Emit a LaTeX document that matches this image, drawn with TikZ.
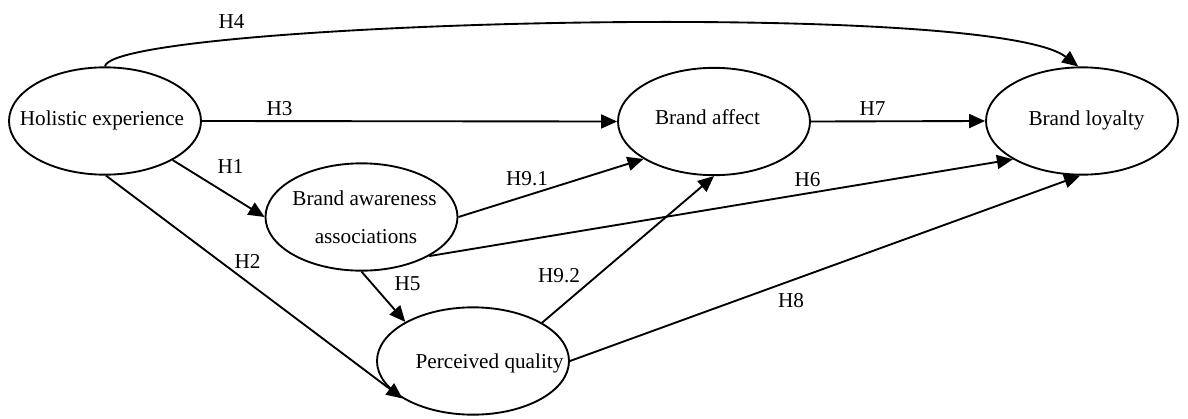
\documentclass[tikz,border=0pt]{standalone}
\usepackage{fontspec}
\setmainfont{Liberation Serif}
\usetikzlibrary{shapes.geometric,arrows.meta}
\begin{document}
\begin{tikzpicture}[x=0.75pt,y=-0.75pt,
  construct/.style={draw, ellipse, line width=1.4pt, minimum width=144pt,
    minimum height=80.5pt, inner sep=0pt},
  txt/.style={anchor=base, inner sep=0pt, font=\fontsize{15.9}{19}\selectfont},
  link/.style={line width=1.4pt, -{Triangle[length=12pt,width=10.5pt]}}]
\useasboundingbox (0,0) rectangle (1188,418);

% constructs
\node[construct] (he) at (105,121) {};
\node[construct] (ba) at (361.5,217) {};
\node[construct] (pq) at (473,361) {};
\node[construct] (af) at (714,121.5) {};
\node[construct] (bl) at (1082,121) {};

\node[txt] (he-t)  at (102,125)   {Holistic experience};
\node[txt] (ba-t1) at (364.5,205) {Brand awareness};
\node[txt] (ba-t2) at (366,243)   {associations};
\node[txt] (pq-t)  at (489.5,368) {Perceived quality};
\node[txt] (af-t)  at (707.5,124) {Brand affect};
\node[txt] (bl-t)  at (1086.5,125) {Brand loyalty};

% hypothesised paths
\draw[link] (he.north) .. controls (112,22) and (990,-2) .. (bl.94);
\draw[link] (he.east) -- (af.west);
\draw[link] (af.east) -- (bl.west);
\draw[link] (he.-30) -- (ba.west);
\draw[link] (he.-89) -- (pq.208.6);
\draw[link] (ba.east) -- (af.208.2);
\draw[link] (ba.-30.4) -- (bl.209.5);
\draw[link] (ba.south) -- (pq.150.2);
\draw[link] (pq.29.1) -- (af.south);
\draw[link] (pq.east) -- (bl.-92);

% path labels
\node[txt] (h4)  at (231.5,28)  {H4};
\node[txt] (h3)  at (279.5,115) {H3};
\node[txt] (h1)  at (230.5,173) {H1};
\node[txt] (h2)  at (247.5,268) {H2};
\node[txt] (h7)  at (872.5,115) {H7};
\node[txt] (h6)  at (807.5,186) {H6};
\node[txt] (h8)  at (791,307)   {H8};
\node[txt] (h91) at (527,185)   {H9.1};
\node[txt] (h5)  at (407.5,290) {H5};
\node[txt] (h92) at (559,282)   {H9.2};
\end{tikzpicture}
\end{document}
